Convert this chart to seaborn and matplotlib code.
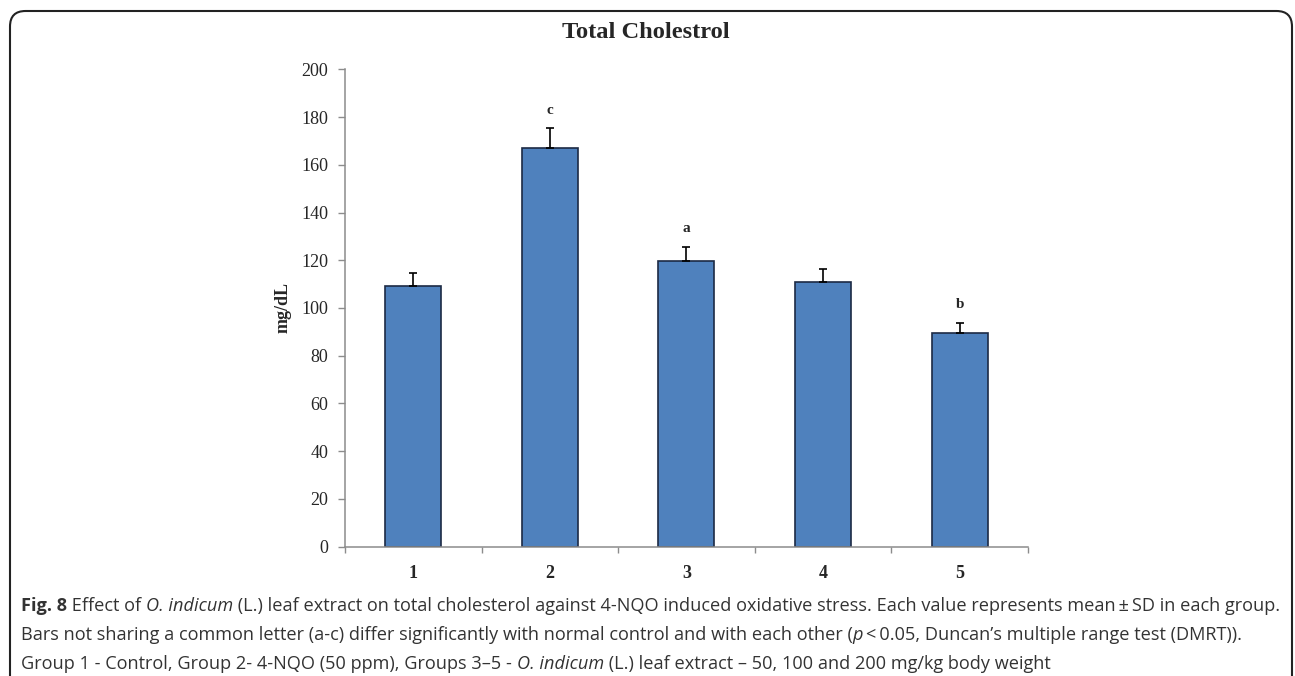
import matplotlib
matplotlib.use("Agg")
import matplotlib.pyplot as plt
import seaborn as sns
import pandas as pd
from matplotlib.patches import FancyBboxPatch

# Data
groups = ["1", "2", "3", "4", "5"]
cholesterol_mean = [109.3, 167.2, 119.7, 111.0, 89.5]
cholesterol_sd = [5.5, 8.0, 6.0, 5.5, 4.3]
sig_letters = ["", "c", "a", "", "b"]

title = "Total Cholestrol"
ylabel = "mg/dL"
yticks = [0, 20, 40, 60, 80, 100, 120, 140, 160, 180, 200]

sns.set_theme(style="white")
plt.rcParams["font.family"] = ["Liberation Serif", "DejaVu Serif"]

BAR_COLOR = "#4F81BD"
EDGE_COLOR = "#1c2a44"
SPINE_COLOR = "#8c8c8c"
W, H = 1295, 676

fig = plt.figure(figsize=(W / 100, H / 100), dpi=100)
ax = fig.add_axes([0.2664, 0.1913, 0.5274, 0.7062])

df = pd.DataFrame({"group": groups, "value": cholesterol_mean})
sns.barplot(data=df, x="group", y="value", color=BAR_COLOR, saturation=1,
            width=0.41, edgecolor=EDGE_COLOR, linewidth=1.2, errorbar=None, ax=ax)

# upper-only SD whiskers
xs = list(range(len(groups)))
ax.errorbar(xs, cholesterol_mean, yerr=[[0] * len(groups), cholesterol_sd],
            fmt="none", ecolor="black", elinewidth=1.2, capsize=3.0, capthick=1.2,
            zorder=3)

# significance letters above whiskers
for x, m, s, lab in zip(xs, cholesterol_mean, cholesterol_sd, sig_letters):
    if lab:
        ax.text(x, m + s + 5.0, lab, ha="center", va="bottom",
                fontsize=11, fontweight="bold")

ax.set_xlim(-0.5, len(groups) - 0.5)
ax.set_ylim(0, 200)
ax.set_yticks(yticks)
ax.set_yticklabels([str(v) for v in yticks], fontsize=13)
ax.set_xticks(xs)
ax.set_xticklabels(groups, fontsize=13, fontweight="bold")
ax.set_xticks([i - 0.5 for i in range(len(groups) + 1)], minor=True)
ax.tick_params(axis="x", which="major", length=0, pad=13)
ax.tick_params(axis="x", which="minor", length=4, width=1, color=SPINE_COLOR,
               direction="out", bottom=True)
ax.tick_params(axis="y", which="major", length=5, width=1, color=SPINE_COLOR,
               direction="out", left=True, pad=7)
ax.set_xlabel("")
ax.set_ylabel(ylabel, fontsize=13, fontweight="bold", labelpad=7)

for side in ["top", "right"]:
    ax.spines[side].set_visible(False)
for side in ["left", "bottom"]:
    ax.spines[side].set_color(SPINE_COLOR)
    ax.spines[side].set_linewidth(1.1)

fig.text(0.499, 1 - 33 / H, title, ha="center", va="center",
         fontsize=17.6, fontweight="bold")

# rounded frame around the figure
frame = FancyBboxPatch((10 / W, -20 / H), 1282 / W, 685 / H,
                       boxstyle="round,pad=0,rounding_size=0.012",
                       transform=fig.transFigure, fill=False,
                       edgecolor="#222222", linewidth=1.5, mutation_aspect=W / H)
fig.patches.append(frame)

# caption with mixed bold / italic runs, laid out on a common baseline
cap_font = ["Open Sans", "DejaVu Sans"]
cap_size = 13.05
caption_lines = [
    [("Fig. 8", "bold", "normal"),
     (" Effect of ", "normal", "normal"),
     ("O. indicum", "normal", "italic"),
     (" (L.) leaf extract on total cholesterol against 4-NQO induced oxidative stress. "
      "Each value represents mean\u2009\u00b1\u2009SD in each group.", "normal", "normal")],
    [("Bars not sharing a common letter (a-c) differ significantly with normal control "
      "and with each other (", "normal", "normal"),
     ("p", "normal", "italic"),
     ("\u2009<\u20090.05, Duncan\u2019s multiple range test (DMRT)).", "normal", "normal")],
    [("Group 1 - Control, Group 2- 4-NQO (50 ppm), Groups 3\u20135 - ", "normal", "normal"),
     ("O. indicum", "normal", "italic"),
     (" (L.) leaf extract \u2013 50, 100 and 200 mg/kg body weight", "normal", "normal")],
]
baselines = [611, 640, 669]
renderer = fig.canvas.get_renderer()
for runs, ypx in zip(caption_lines, baselines):
    xpx = 21.0
    for txt, wt, st in runs:
        t = fig.text(xpx / W, 1 - ypx / H, txt, fontsize=cap_size, fontweight=wt,
                     fontstyle=st, family=cap_font, color="#333333",
                     va="baseline", ha="left")
        xpx += t.get_window_extent(renderer=renderer).width

fig.savefig("out.png", dpi=100)
